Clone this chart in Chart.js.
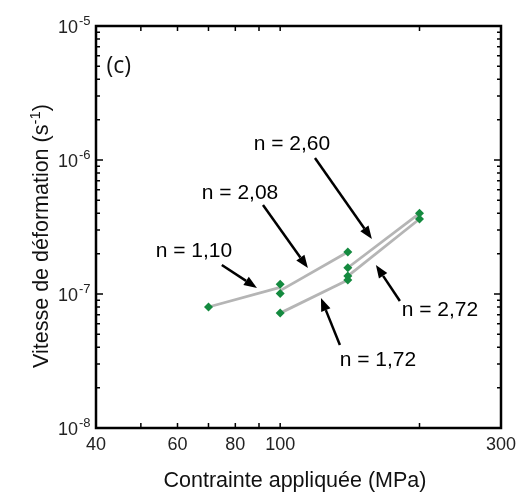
<!DOCTYPE html>
<html>
<head>
<meta charset="utf-8">
<script src="https://cdn.jsdelivr.net/npm/chart.js@4"></script>
<style>
  body { margin: 0; background: #fff; }
  #wrap { width: 526px; height: 492px; }
</style>
</head>
<body>
<div id="wrap"><canvas id="chart" width="526" height="492"></canvas></div>
<script>
// measured points (stress MPa, strain rate s-1)
const stress = [70, 100, 100, 100, 140, 140, 140, 140, 200, 200];
const rate = [8.0e-8, 1.18e-7, 1.01e-7, 7.2e-8, 2.06e-7, 1.57e-7, 1.36e-7, 1.27e-7, 4.0e-7, 3.63e-7];

// fitted segments
const fitLabels = ['n = 1,10', 'n = 2,08', 'n = 1,72', 'n = 2,60', 'n = 2,72'];
const fitStress = [[70, 100], [100, 140], [100, 140], [140, 200], [140, 200]];
const fitRate = [[8.0e-8, 1.12e-7], [1.06e-7, 2.06e-7], [7.2e-8, 1.27e-7], [1.57e-7, 4.0e-7], [1.36e-7, 3.63e-7]];

// annotation text and arrows, in data units
const labelX = [65.1, 81.9, 162.6, 106, 221.4];
const labelY = [2.13e-7, 5.77e-7, 3.27e-8, 1.34e-6, 7.73e-8];
const arrowFrom = [[74.8, 1.645e-7], [91.8, 4.61e-7], [134.6, 4.16e-8], [118.9, 1.035e-6], [181.4, 8.87e-8]];
const arrowTo = [[89.1, 1.11e-7], [114.8, 1.56e-7], [122.5, 9.33e-8], [157.8, 2.57e-7], [161, 1.645e-7]];

// axes
const xMajor = [40, 60, 80, 100, 300];
const xMinor = [50, 70, 90, 200];
const yDecades = [1e-8, 1e-7, 1e-6, 1e-5];
const yExp = ['-8', '-7', '-6', '-5'];

const FONT = '"Liberation Sans", Arial, sans-serif';

function drawArrow(ctx, x1, y1, x2, y2) {
  const a = Math.atan2(y2 - y1, x2 - x1);
  const len = 13, w = 5;
  const bx = x2 - len * Math.cos(a), by = y2 - len * Math.sin(a);
  ctx.beginPath();
  ctx.moveTo(x1, y1);
  ctx.lineTo(bx, by);
  ctx.stroke();
  ctx.beginPath();
  ctx.moveTo(x2, y2);
  ctx.lineTo(bx + w * Math.sin(a), by - w * Math.cos(a));
  ctx.lineTo(bx - w * Math.sin(a), by + w * Math.cos(a));
  ctx.closePath();
  ctx.fill();
}

const decorate = {
  id: 'decorate',
  afterDraw(chart) {
    const ctx = chart.ctx;
    const xs = chart.scales.x, ys = chart.scales.y;
    const a = chart.chartArea;
    ctx.save();
    ctx.strokeStyle = '#000';
    ctx.fillStyle = '#000';

    // inward ticks
    ctx.lineWidth = 1.5;
    ctx.beginPath();
    xMajor.concat(xMinor).forEach(v => {
      const px = xs.getPixelForValue(v);
      ctx.moveTo(px, a.bottom); ctx.lineTo(px, a.bottom - 5);
      ctx.moveTo(px, a.top); ctx.lineTo(px, a.top + 5);
    });
    yDecades.forEach((d, i) => {
      for (let m = 1; m < 10; m++) {
        const v = d * m;
        if (v > 1e-5) break;
        const py = ys.getPixelForValue(v);
        const len = m === 1 ? 7 : 4;
        ctx.moveTo(a.left, py); ctx.lineTo(a.left + len, py);
        ctx.moveTo(a.right, py); ctx.lineTo(a.right - len, py);
      }
    });
    ctx.stroke();

    // frame
    ctx.lineWidth = 2.5;
    ctx.strokeRect(a.left, a.top, a.right - a.left, a.bottom - a.top);

    // x tick labels
    ctx.font = '18px ' + FONT;
    ctx.textAlign = 'center';
    ctx.textBaseline = 'alphabetic';
    ctx.fillStyle = '#222';
    xMajor.forEach(v => ctx.fillText(String(v), xs.getPixelForValue(v), 450));

    // y tick labels with exponent
    yDecades.forEach((d, i) => {
      const py = ys.getPixelForValue(d);
      ctx.font = '18px ' + FONT;
      ctx.textAlign = 'right';
      ctx.fillText('10', 78, py + 7);
      ctx.font = '13px ' + FONT;
      ctx.textAlign = 'left';
      ctx.fillText(yExp[i], 79, py - 1);
    });

    // x title
    ctx.fillStyle = '#111';
    ctx.font = '21.5px ' + FONT;
    ctx.textAlign = 'center';
    ctx.fillText('Contrainte appliquée (MPa)', 295, 487);

    // y title, rotated
    ctx.save();
    ctx.translate(48, 236);
    ctx.rotate(-Math.PI / 2);
    const main = 'Vitesse de déformation (s';
    ctx.font = '21.5px ' + FONT;
    const w1 = ctx.measureText(main).width;
    ctx.font = '15px ' + FONT;
    const w2 = ctx.measureText('-1').width;
    ctx.font = '21.5px ' + FONT;
    const w3 = ctx.measureText(')').width;
    let x0 = -(w1 + w2 + w3) / 2;
    ctx.textAlign = 'left';
    ctx.fillText(main, x0, 0);
    ctx.font = '15px ' + FONT;
    ctx.fillText('-1', x0 + w1, -8);
    ctx.font = '21.5px ' + FONT;
    ctx.fillText(')', x0 + w1 + w2, 0);
    ctx.restore();

    // panel letter
    ctx.font = '23px "Open Sans", sans-serif';
    ctx.textAlign = 'center';
    ctx.textBaseline = 'middle';
    ctx.fillText('(c)', xs.getPixelForValue(44.8), ys.getPixelForValue(5.03e-6));

    // n labels and arrows
    ctx.fillStyle = '#000';
    ctx.font = '21px ' + FONT;
    fitLabels.forEach((t, i) => {
      ctx.fillText(t, xs.getPixelForValue(labelX[i]), ys.getPixelForValue(labelY[i]) + 1);
    });
    ctx.lineWidth = 2.5;
    arrowFrom.forEach((f, i) => {
      drawArrow(ctx,
        xs.getPixelForValue(f[0]), ys.getPixelForValue(f[1]),
        xs.getPixelForValue(arrowTo[i][0]), ys.getPixelForValue(arrowTo[i][1]));
    });
    ctx.restore();
  }
};

const fitSets = fitLabels.map((name, i) => ({
  label: name,
  data: fitStress[i].map((s, j) => ({ x: s, y: fitRate[i][j] })),
  showLine: true,
  borderColor: '#b5b5b5',
  borderWidth: 2.8,
  pointRadius: 0,
  order: 1
}));

new Chart(document.getElementById('chart'), {
  type: 'scatter',
  data: {
    datasets: [
      {
        label: 'mesures',
        data: stress.map((s, i) => ({ x: s, y: rate[i] })),
        pointStyle: 'rectRot',
        pointRadius: 4.5,
        backgroundColor: '#148a3f',
        borderColor: '#148a3f',
        borderWidth: 0,
        order: 0
      },
      ...fitSets
    ]
  },
  options: {
    responsive: false,
    animation: false,
    layout: { padding: { left: 96, right: 25, top: 26, bottom: 64 } },
    plugins: { legend: { display: false }, tooltip: { enabled: false } },
    scales: {
      x: { type: 'logarithmic', min: 40, max: 300, display: false },
      y: { type: 'logarithmic', min: 1e-8, max: 1e-5, display: false }
    }
  },
  plugins: [decorate]
});
</script>
</body>
</html>
